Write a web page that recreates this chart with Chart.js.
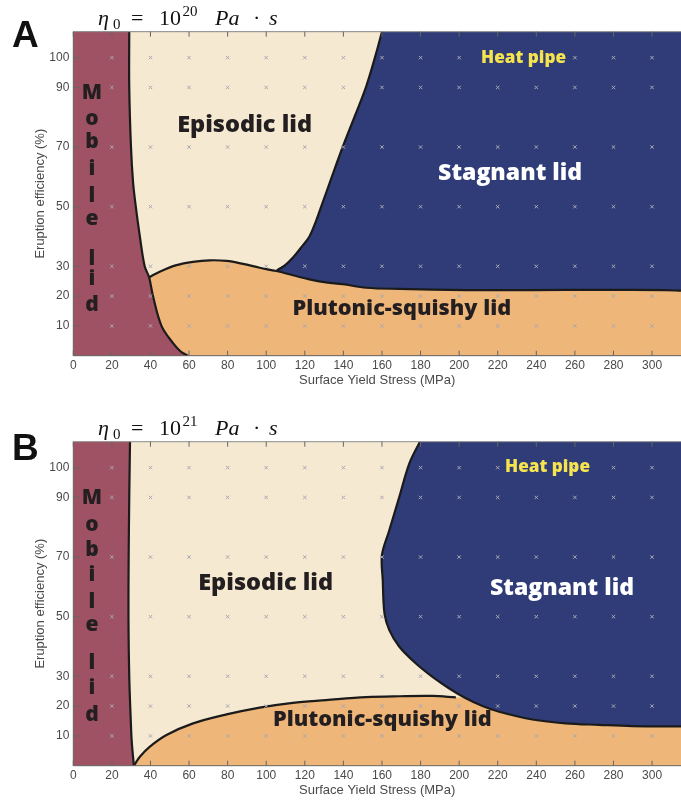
<!DOCTYPE html>
<html lang="en">
<head>
<meta charset="UTF-8">
<title>Regime diagram</title>
<script src="https://cdn.jsdelivr.net/npm/chart.js"></script>
<style>
  html, body { margin: 0; padding: 0; background: #fff; overflow: hidden; }
  .panel { position: absolute; left: 0; }
</style>
</head>
<body>
<canvas id="chartA" class="panel" style="top:0" width="681" height="400"></canvas>
<canvas id="chartB" class="panel" style="top:410px" width="681" height="392"></canvas>

<script>
// axes
const X_MAX = 315;
const Y_MAX = 108.7;
const xTicks = [0, 20, 40, 60, 80, 100, 120, 140, 160, 180, 200, 220, 240, 260, 280, 300];
const yTicks = [10, 20, 30, 50, 70, 90, 100];

// simulation grid (the little grey x marks)
const markerX = [20, 40, 60, 80, 100, 120, 140, 160, 180, 200, 220, 240, 260, 280, 300];
const markerY = [10, 20, 30, 50, 70, 90, 100];

// panel A (eta0 = 1e20) regime boundaries, [yield stress, eruption efficiency]
const mobileA = [[29, 108.7], [29, 90], [29.9, 70], [31, 58], [32.4, 50], [34.5, 40], [37, 30], [39.3, 26.3],
  [41.3, 20], [45.7, 10], [51.7, 4.2], [55.5, 1.5], [59.3, 0]];
const plutonicA = [[39.3, 26.3], [44.8, 28.2], [53.5, 30.4], [62, 31.5], [70.7, 32], [79.4, 31.8], [88, 30.8],
  [96.6, 29.5], [105.2, 28.4], [113.8, 27], [122.4, 25.6], [131, 24.6], [139.7, 24], [151.8, 22.8],
  [169, 22.4], [203.5, 22], [238, 22], [272.6, 22.1], [307, 22], [315, 21.8]];
const episodicA = [[105.2, 28.4], [110, 30.5], [114, 33], [118, 36.2], [122.4, 40], [126, 45.5], [128.5, 50],
  [134, 60], [139.7, 70.1], [146, 80.5], [151.8, 90.3], [157, 101.5], [160, 108.7]];

// panel B (eta0 = 1e21)
const mobileB = [[29.4, 108.7], [29, 90], [28.7, 70], [28.6, 50], [29, 30], [29.8, 15], [30.3, 8], [31.4, 0]];
const plutonicB = [[31.4, 0], [34.5, 3], [39.7, 6.4], [48.3, 10.3], [62.1, 14.2], [79.4, 17.2], [96.6, 19.5],
  [113.8, 21.1], [131, 22], [151.8, 23], [169, 23.3], [186.2, 23.4], [198.3, 22.9]];
const stagnantB = [[179.7, 108.7], [174.2, 101.4], [169, 90.2], [163.8, 79], [160, 70.7], [160.4, 62.3],
  [161.3, 51.1], [163.8, 45.5], [169, 39.9], [177.6, 34.3], [186.2, 29.8], [194.9, 25.9], [203.5, 22.6],
  [212.1, 20], [220.7, 18.1], [238, 15.5], [255.2, 14.2], [272.5, 13.7], [289.7, 13.3], [315, 13.2]];

const MAROON = '#9f5263';
const CREAM = '#f6e9d1';
const ORANGE = '#efb679';
const BLUE = '#2f3c77';
const INK = '#231f20';

const LO = -10, HI = 125, FAR = 330;

function pts(arr) { return arr.map(([x, y]) => ({x, y})); }

function region(arr, color, order) {
  return {
    data: pts(arr), showLine: true, fill: 'shape', backgroundColor: color,
    borderWidth: 0, pointRadius: 0, tension: 0.35, capBezierPoints: false, order
  };
}

function boundary(arr) {
  return {
    data: pts(arr), showLine: true, fill: false, borderColor: '#1b1b1b',
    borderWidth: 2.2, pointRadius: 0, tension: 0.35, capBezierPoints: false, order: 5
  };
}

function markers() {
  const d = [];
  markerY.forEach(y => markerX.forEach(x => d.push({x, y})));
  return {
    data: d, showLine: false, pointStyle: 'crossRot', pointRadius: 2.4,
    borderColor: '#a8a8b2', borderWidth: 1, backgroundColor: 'transparent', order: 1
  };
}

const datasetsA = [
  region([[LO, LO], [FAR, LO], [FAR, HI], [LO, HI]], BLUE, 100),
  region([[LO, LO], [105.2, LO], ...episodicA, [167, HI], [LO, HI]], CREAM, 99),
  region([[LO, LO], [LO, 26.3], ...plutonicA, [FAR, 21.8], [FAR, LO]], ORANGE, 98),
  region([[LO, HI], [29, HI], ...mobileA, [70, LO], [LO, LO]], MAROON, 97),
  boundary(mobileA), boundary(plutonicA), boundary(episodicA),
  markers()
];
datasetsA[0].tension = 0;

const datasetsB = [
  region([[LO, LO], [FAR, LO], [FAR, HI], [LO, HI]], CREAM, 100),
  region([[31.4, LO], ...plutonicB, [240, 22.9], [FAR, 22.9], [FAR, LO]], ORANGE, 99),
  region([...stagnantB, [FAR, 13.2], [FAR, HI], [190, HI]], BLUE, 98),
  region([[LO, HI], [29.4, HI], ...mobileB, [31.6, LO], [LO, LO]], MAROON, 97),
  boundary(mobileB), boundary(plutonicB), boundary(stagnantB),
  markers()
];
datasetsB[0].tension = 0;

const mobileLetters = ['M', 'o', 'b', 'i', 'l', 'e', 'l', 'i', 'd'];

// label anchors in data units; w = printed width in px
const panelA = {
  letter: 'A', letterY: 47, exp: '20',
  mobileY: [88, 79.5, 71.7, 62.7, 53.7, 46, 32.6, 25.8, 17],
  labels: [
    {text: 'Episodic lid', x: 88.8, y: 77.4, color: INK, w: 135},
    {text: 'Stagnant lid', x: 226.4, y: 61.3, color: '#fff', w: 144},
    {text: 'Heat pipe', x: 233.4, y: 100, color: '#f5e34f', w: 85},
    {text: 'Plutonic-squishy lid', x: 170.3, y: 15.7, color: INK, w: 219}
  ]
};
const panelB = {
  letter: 'B', letterY: 50, exp: '21',
  mobileY: [89.7, 80.8, 72.4, 64, 55, 47.2, 34.4, 26, 17],
  labels: [
    {text: 'Episodic lid', x: 99.7, y: 61.3, color: INK, w: 135},
    {text: 'Stagnant lid', x: 253.3, y: 59.6, color: '#fff', w: 144},
    {text: 'Heat pipe', x: 245.8, y: 100.3, color: '#f5e34f', w: 85},
    {text: 'Plutonic-squishy lid', x: 160.2, y: 15.3, color: INK, w: 219}
  ]
};

const SANS = '"Liberation Sans", Arial, sans-serif';
const SERIF = '"Liberation Serif", "Times New Roman", serif';
const BOLD = '"Open Sans", Lato, sans-serif';

function drawTitle(ctx, exp) {
  ctx.save();
  ctx.fillStyle = '#111';
  ctx.textAlign = 'left';
  ctx.textBaseline = 'alphabetic';
  const big = 22, small = 15;
  const parts = [
    ['η', 'italic ' + big + 'px ' + SERIF, 98, 25],
    ['0', small + 'px ' + SERIF, 113, 29],
    ['=', big + 'px ' + SERIF, 131, 25],
    ['10', big + 'px ' + SERIF, 159, 25],
    [exp, small + 'px ' + SERIF, 182.5, 15.5],
    ['Pa', 'italic ' + big + 'px ' + SERIF, 215, 25],
    ['·', big + 'px ' + SERIF, 253, 25],
    ['s', 'italic ' + big + 'px ' + SERIF, 269, 25]
  ];
  parts.forEach(([t, f, x, y]) => { ctx.font = f; ctx.fillText(t, x, y); });
  ctx.restore();
}

function makePanel(id, height, datasets, cfg) {
  const decor = {
    id: 'decor',
    afterDatasetsDraw(chart) {
      const {ctx, scales: {x, y}} = chart;
      ctx.save();
      ctx.textAlign = 'center';
      ctx.textBaseline = 'middle';
      cfg.labels.forEach(l => {
        ctx.font = '800 20px ' + BOLD;
        const size = 20 * l.w / ctx.measureText(l.text).width;
        ctx.font = '800 ' + size.toFixed(2) + 'px ' + BOLD;
        ctx.fillStyle = l.color;
        ctx.fillText(l.text, x.getPixelForValue(l.x), y.getPixelForValue(l.y));
      });
      ctx.font = '800 21px ' + BOLD;
      ctx.fillStyle = INK;
      mobileLetters.forEach((ch, i) => {
        ctx.fillText(ch, x.getPixelForValue(9.7), y.getPixelForValue(cfg.mobileY[i]));
      });
      ctx.restore();
    },
    afterDraw(chart) {
      const {ctx, chartArea: a, scales: {x, y}} = chart;
      ctx.save();
      ctx.lineWidth = 1;
      ctx.strokeStyle = '#8c8c8c';
      ctx.beginPath();
      ctx.moveTo(a.left, a.top); ctx.lineTo(a.right, a.top);
      ctx.stroke();
      ctx.strokeStyle = '#666';
      ctx.beginPath();
      ctx.moveTo(a.left, a.top); ctx.lineTo(a.left, a.bottom); ctx.lineTo(a.right, a.bottom);
      xTicks.forEach(v => {
        const px = x.getPixelForValue(v);
        ctx.moveTo(px, a.bottom); ctx.lineTo(px, a.bottom - 5);
        ctx.moveTo(px, a.top); ctx.lineTo(px, a.top + 5);
      });
      yTicks.forEach(v => {
        const py = y.getPixelForValue(v);
        ctx.moveTo(a.left, py); ctx.lineTo(a.left + 6, py);
      });
      ctx.stroke();
      // panel letter and viscosity title
      ctx.fillStyle = '#111';
      ctx.font = 'bold 37px ' + SANS;
      ctx.textAlign = 'left';
      ctx.fillText(cfg.letter, 12, cfg.letterY);
      ctx.restore();
      drawTitle(ctx, cfg.exp);
    }
  };

  return new Chart(document.getElementById(id), {
    type: 'scatter',
    data: {datasets},
    options: {
      responsive: false,
      animation: false,
      devicePixelRatio: 1,
      events: [],
      layout: {autoPadding: false, padding: {top: 31.7, left: 0, right: 0, bottom: 0}},
      plugins: {legend: {display: false}, tooltip: {enabled: false}},
      scales: {
        x: {
          type: 'linear', min: 0, max: X_MAX,
          grid: {display: false, drawTicks: false}, border: {display: false},
          ticks: {stepSize: 20, includeBounds: false, padding: 3, color: '#4a4a4a',
            font: {family: SANS, size: 12}},
          title: {display: true, text: 'Surface Yield Stress (MPa)', color: '#4a4a4a',
            font: {family: SANS, size: 13}, padding: {top: 0, bottom: height - 380 - 7.8}},
          afterFit(s) { s.height = height - 355.7; }
        },
        y: {
          type: 'linear', min: 0, max: Y_MAX,
          grid: {display: false, drawTicks: false}, border: {display: false},
          ticks: {padding: 4, color: '#4a4a4a', font: {family: SANS, size: 12}},
          afterBuildTicks(s) { s.ticks = yTicks.map(v => ({value: v})); },
          title: {display: true, text: 'Eruption efficiency (%)', color: '#4a4a4a',
            font: {family: SANS, size: 13}, padding: {top: 32.2, bottom: 0}},
          afterFit(s) { s.width = 73.3; }
        }
      }
    },
    plugins: [decor]
  });
}

makePanel('chartA', 400, datasetsA, panelA);
makePanel('chartB', 392, datasetsB, panelB);
</script>
</body>
</html>
